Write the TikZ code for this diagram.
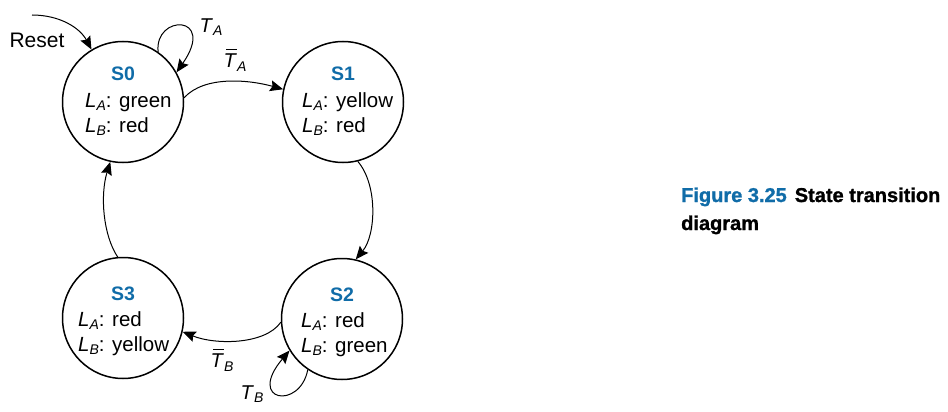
\documentclass[tikz,border=0pt]{standalone}
\usepackage{fontspec}
\setmainfont{Liberation Sans}
\newfontfamily\capfont{Liberation Sans}
\usetikzlibrary{arrows.meta,calc}
\definecolor{stblue}{RGB}{16,108,168}
\newcommand{\Sub}[2]{\textit{#1}\raisebox{-0.35ex}{\fontsize{14}{14}\selectfont\textit{#2}}}
\newcommand{\BarSub}[2]{\leavevmode\rlap{\hspace{0.14em}\rule[0.86em]{0.52em}{0.065em}}\textit{#1}\raisebox{-0.35ex}{\fontsize{14}{14}\selectfont\textit{#2}}}
\tikzset{
  state/.style={draw, circle, line width=1.5pt, minimum size=121pt, inner sep=0pt},
  stitle/.style={font=\fontsize{19.5}{19.5}\selectfont\bfseries, text=stblue, anchor=base, inner sep=0pt},
  sbody/.style={font=\fontsize{20.5}{20.5}\selectfont, anchor=base west, inner sep=0pt},
  trans/.style={line width=1pt, -{Stealth[length=13pt,width=11pt,inset=2pt]}},
  tlabel/.style={font=\fontsize{20}{20}\selectfont, inner sep=0pt}
}
\begin{document}
\begin{tikzpicture}[x=1pt,y=-1pt]
\useasboundingbox (0,0) rectangle (948,412);
% states
\node[state] (S0) at (123,102) {};
\node[state] (S1) at (343,102) {};
\node[state] (S2) at (342,319) {};
\node[state] (S3) at (123,318) {};
% texts
\node[stitle] (t0) at ($(S0)+(0,-21)$) {S0};
\node[sbody] (a0) at ($(S0)+(-38,5)$) {\Sub{L}{A}: green};
\node[sbody] (b0) at ($(S0)+(-38,30)$) {\Sub{L}{B}: red};
\node[stitle] (t1) at ($(S1)+(0,-21)$) {S1};
\node[sbody] (a1) at ($(S1)+(-41,5)$) {\Sub{L}{A}: yellow};
\node[sbody] (b1) at ($(S1)+(-41,30)$) {\Sub{L}{B}: red};
\node[stitle] (t2) at ($(S2)+(0,-18)$) {S2};
\node[sbody] (a2) at ($(S2)+(-41,8)$) {\Sub{L}{A}: red};
\node[sbody] (b2) at ($(S2)+(-41,33)$) {\Sub{L}{B}: green};
\node[stitle] (t3) at ($(S3)+(0,-18)$) {S3};
\node[sbody] (a3) at ($(S3)+(-45,8)$) {\Sub{L}{A}: red};
\node[sbody] (b3) at ($(S3)+(-45,33)$) {\Sub{L}{B}: yellow};
% reset
\node[tlabel, font=\fontsize{21}{21}\selectfont] (reset) at (37,40) {Reset};
\coordinate (rs) at (32,15);
\draw[trans] (rs) .. controls (60,15) and (80,28) .. (S0.121);
% S0 self loop
\draw[trans] (S0.55) .. controls (154,14) and (217,14) .. (S0.29);
\node[tlabel] (lTA) at (211,27) {\Sub{T}{A}};
% S0 -> S1
\draw[trans] (S0.4) .. controls (205,75) and (250,80) .. (S1.168);
\node[tlabel] (lTAb) at (235,60) {\BarSub{T}{A}};
% S1 -> S2
\draw[trans] (S1.-76) .. controls (378,185) and (376,235) .. (S2.77);
% S2 -> S3
\draw[trans] (S2.183) .. controls (265,345) and (215,345) .. (S3.-13);
\node[tlabel] (lTBb) at (222,360) {\BarSub{T}{B}};
% S2 self loop
\draw[trans] (S2.236) .. controls (300,410) and (246,402) .. (S2.211);
\node[tlabel] (lTB) at (252,394) {\Sub{T}{B}};
% S3 -> S0
\draw[trans] (S3.95) .. controls (103,235) and (100,195) .. (S0.258);
% caption
\node[anchor=base west, align=left, inner sep=0pt, font=\capfont\fontsize{20}{28}\selectfont\bfseries\addfontfeatures{FakeBold=1.2}] (cap) at (681,230)
  {\textcolor{stblue}{Figure 3.25}\hspace{0.4em}State transition\\diagram};
\end{tikzpicture}
\end{document}
